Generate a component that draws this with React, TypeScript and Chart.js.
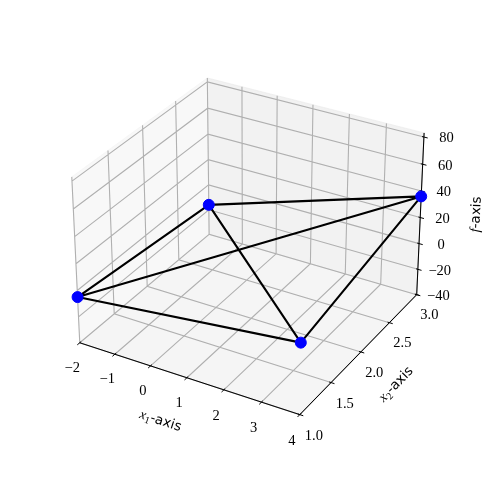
import React, { useEffect, useRef } from "react";
import { Chart, registerables } from "chart.js";

Chart.register(...registerables);

// ---------- data ----------
const pointX1 = [-2, -2, 4, 4];
const pointX2 = [1, 3, 3, 1];
const pointF = [-5, -16, 36, 13];
const edgeStart = [0, 0, 0, 1, 1, 2];
const edgeEnd = [1, 2, 3, 2, 3, 3];

const x1Ticks = [-2, -1, 0, 1, 2, 3, 4];
const x1TickLabels = ["\u22122", "\u22121", "0", "1", "2", "3", "4"];
const x2Ticks = [1, 1.5, 2, 2.5, 3];
const x2TickLabels = ["1.0", "1.5", "2.0", "2.5", "3.0"];
const fTicks = [-40, -20, 0, 20, 40, 60, 80];
const fTickLabels = ["\u221240", "\u221220", "0", "20", "40", "60", "80"];

const x1Lim = [-2, 4];
const x2Lim = [1, 3];
const fLim = [-40, 83];

// ---------- view / layout ----------
const W = 491;
const H = 491;
const ELEV = 30;
const AZIM = -60;
const DIST = 10;
const BOX_RATIO = [4, 4, 3];
const PIX_SCALE = 2175;
const CENTER_X = 251.5;
const CENTER_Y = 238;

type P2 = { x: number; y: number };

function makeProjector() {
  const k = (1.8294640721620434 * 25) / 24 / Math.hypot(BOX_RATIO[0], BOX_RATIO[1], BOX_RATIO[2]);
  const box = BOX_RATIO.map((b) => b * k);
  const e = (ELEV * Math.PI) / 180;
  const a = (AZIM * Math.PI) / 180;
  const w = [Math.cos(e) * Math.cos(a), Math.cos(e) * Math.sin(a), Math.sin(e)];
  let u = [-w[1], w[0], 0];
  const un = Math.hypot(u[0], u[1], u[2]);
  u = u.map((c) => c / un);
  const v = [w[1] * u[2] - w[2] * u[1], w[2] * u[0] - w[0] * u[2], w[0] * u[1] - w[1] * u[0]];
  const dot = (p: number[], q: number[]) => p[0] * q[0] + p[1] * q[1] + p[2] * q[2];
  return (x1: number, x2: number, f: number): P2 => {
    const q = [
      ((x1 - x1Lim[0]) / (x1Lim[1] - x1Lim[0]) - 0.5) * box[0],
      ((x2 - x2Lim[0]) / (x2Lim[1] - x2Lim[0]) - 0.5) * box[1],
      ((f - fLim[0]) / (fLim[1] - fLim[0]) - 0.5) * box[2],
    ];
    const d = DIST - dot(w, q);
    return { x: dot(u, q) / d, y: dot(v, q) / d };
  };
}
const proj = makeProjector();
const GAP: P2 = { x: NaN, y: NaN };

const [a1, b1] = x1Lim;
const [a2, b2] = x2Lim;
const [af, bf] = fLim;

function poly(pts: number[][]): P2[] {
  return pts.map((p) => proj(p[0], p[1], p[2]));
}

// panes
const floorPane = poly([[a1, a2, af], [b1, a2, af], [b1, b2, af], [a1, b2, af], [a1, a2, af]]);
const leftPane = poly([[a1, a2, af], [a1, b2, af], [a1, b2, bf], [a1, a2, bf], [a1, a2, af]]);
const backPane = poly([[a1, b2, af], [b1, b2, af], [b1, b2, bf], [a1, b2, bf], [a1, b2, af]]);

// grid lines
const gridPts: P2[] = [];
x1Ticks.forEach((t) => {
  gridPts.push(...poly([[t, a2, af], [t, b2, af], [t, b2, bf]]), GAP);
});
x2Ticks.forEach((t) => {
  gridPts.push(...poly([[b1, t, af], [a1, t, af], [a1, t, bf]]), GAP);
});
fTicks.forEach((t) => {
  gridPts.push(...poly([[a1, a2, t], [a1, b2, t], [b1, b2, t]]), GAP);
});

// axis lines
const axisPts: P2[] = [
  ...poly([[a1, a2, af], [b1, a2, af]]), GAP,
  ...poly([[b1, a2, af], [b1, b2, af]]), GAP,
  ...poly([[b1, b2, af], [b1, b2, bf]]),
];

// tick marks
const tickPts: P2[] = [];
x1Ticks.forEach((t) => tickPts.push(...poly([[t, a2 - 0.035, af], [t, a2 + 0.02, af]]), GAP));
x2Ticks.forEach((t) => tickPts.push(...poly([[b1 + 0.09, t, af], [b1 - 0.05, t, af]]), GAP));
fTicks.forEach((t) => tickPts.push(...poly([[b1 + 0.1, b2, t], [b1 - 0.05, b2, t]]), GAP));

// data edges + points
const edgePts: P2[] = [];
edgeStart.forEach((s, i) => {
  const e = edgeEnd[i];
  edgePts.push(proj(pointX1[s], pointX2[s], pointF[s]), proj(pointX1[e], pointX2[e], pointF[e]), GAP);
});
const markerPts: P2[] = pointX1.map((x, i) => proj(x, pointX2[i], pointF[i]));

const SERIF = "'Liberation Serif', 'Times New Roman', serif";
const SANS = "'DejaVu Sans', sans-serif";

type Part = { text: string; font: string; dy?: number };

function drawRich(ctx: CanvasRenderingContext2D, parts: Part[], x: number, y: number, angle: number) {
  ctx.save();
  ctx.translate(x, y);
  ctx.rotate(angle);
  let total = 0;
  parts.forEach((p) => {
    ctx.font = p.font;
    total += ctx.measureText(p.text).width;
  });
  let cx = -total / 2;
  ctx.textBaseline = "alphabetic";
  ctx.textAlign = "left";
  ctx.fillStyle = "#000";
  parts.forEach((p) => {
    ctx.font = p.font;
    ctx.fillText(p.text, cx, 5 + (p.dy || 0));
    cx += ctx.measureText(p.text).width;
  });
  ctx.restore();
}

const textPlugin = {
  id: "axisText",
  afterDatasetsDraw(chart: any) {
    const ctx: CanvasRenderingContext2D = chart.ctx;
    const xs = chart.scales.x;
    const ys = chart.scales.y;
    const px = (x1: number, x2: number, f: number) => {
      const p = proj(x1, x2, f);
      return { x: xs.getPixelForValue(p.x), y: ys.getPixelForValue(p.y) };
    };
    const tickFont = `14.5px ${SERIF}`;
    ctx.save();
    ctx.fillStyle = "#000";
    ctx.font = tickFont;
    ctx.textAlign = "center";
    ctx.textBaseline = "middle";
    x1Ticks.forEach((t, i) => {
      const p = px(t, a2 - 0.12, af - 14);
      ctx.fillText(x1TickLabels[i], p.x, p.y);
    });
    x2Ticks.forEach((t, i) => {
      const p = px(b1 + 0.37, t, af - 13);
      ctx.fillText(x2TickLabels[i], p.x, p.y);
    });
    fTicks.forEach((t, i) => {
      const p = px(b1 + 0.5, b2 + 0.066, t);
      ctx.fillText(fTickLabels[i], p.x, p.y);
    });
    ctx.restore();

    const ang = (p: { x: number; y: number }, q: { x: number; y: number }) => Math.atan2(q.y - p.y, q.x - p.x);
    const l1 = px((a1 + b1) / 2 - 0.05, a2 - 0.36, af - 15);
    drawRich(
      ctx,
      [
        { text: "x", font: `italic 14px ${SERIF}` },
        { text: "1", font: `10px ${SERIF}`, dy: 3 },
        { text: "-axis", font: `13.5px ${SANS}` },
      ],
      l1.x,
      l1.y,
      ang(px(a1, a2, af), px(b1, a2, af))
    );
    const l2 = px(b1 + 0.93, (a2 + b2) / 2, af - 16);
    drawRich(
      ctx,
      [
        { text: "x", font: `italic 14px ${SERIF}` },
        { text: "2", font: `10px ${SERIF}`, dy: 3 },
        { text: "-axis", font: `13.5px ${SANS}` },
      ],
      l2.x,
      l2.y,
      ang(px(b1, a2, af), px(b1, b2, af))
    );
    const l3 = px(b1 + 1.12, b2 + 0.24, (af + bf) / 2);
    drawRich(
      ctx,
      [
        { text: "f", font: `italic 14px ${SERIF}` },
        { text: "-axis", font: `13.5px ${SANS}` },
      ],
      l3.x,
      l3.y,
      ang(px(b1, b2, af), px(b1, b2, bf))
    );
  },
};

function lineSet(data: P2[], color: string, width: number, order: number, extra: any = {}) {
  return {
    data,
    order,
    showLine: true,
    borderColor: color,
    borderWidth: width,
    pointRadius: 0,
    pointHoverRadius: 0,
    fill: false,
    spanGaps: false,
    ...extra,
  };
}

export default function App() {
  const ref = useRef<HTMLCanvasElement>(null);
  useEffect(() => {
    document.body.style.margin = "0";
    if (!ref.current) return;
    const chart = new Chart(ref.current, {
      type: "scatter",
      data: {
        datasets: [
          lineSet(floorPane, "rgba(236,236,236,0.5)", 1, 9, { fill: "shape", backgroundColor: "rgba(236,236,236,0.5)" }),
          lineSet(leftPane, "rgba(242,242,242,0.5)", 1, 8, { fill: "shape", backgroundColor: "rgba(242,242,242,0.5)" }),
          lineSet(backPane, "rgba(230,230,230,0.5)", 1, 7, { fill: "shape", backgroundColor: "rgba(230,230,230,0.5)" }),
          lineSet(gridPts, "#b0b0b0", 1.1, 6),
          lineSet(axisPts, "#000000", 1, 5),
          lineSet(tickPts, "#000000", 1, 4),
          lineSet(edgePts, "#000000", 2.1, 3),
          {
            data: markerPts,
            order: 1,
            showLine: false,
            pointRadius: 5.5,
            pointBorderWidth: 1,
            pointBackgroundColor: "#0000ff",
            pointBorderColor: "#0000ff",
            pointHoverRadius: 5.5,
          },
        ] as any,
      },
      options: {
        responsive: false,
        animation: false,
        devicePixelRatio: 1,
        layout: { padding: 0 },
        events: [],
        scales: {
          x: { type: "linear", display: false, min: -CENTER_X / PIX_SCALE, max: (W - CENTER_X) / PIX_SCALE },
          y: { type: "linear", display: false, min: -(H - CENTER_Y) / PIX_SCALE, max: CENTER_Y / PIX_SCALE },
        },
        plugins: { legend: { display: false }, tooltip: { enabled: false } },
      },
      plugins: [textPlugin],
    } as any);
    return () => chart.destroy();
  }, []);
  return (
    <div style={{ width: W, height: H, background: "#ffffff" }}>
      <canvas ref={ref} width={W} height={H} style={{ display: "block", width: W, height: H }} />
    </div>
  );
}
